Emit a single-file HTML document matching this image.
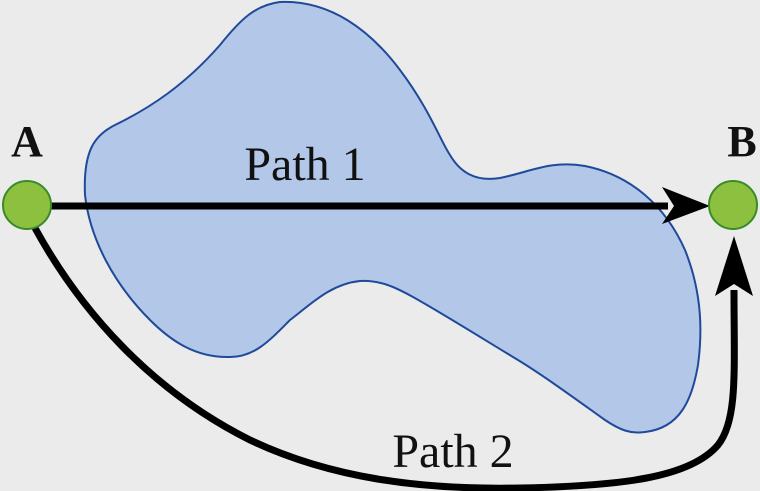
<!DOCTYPE html>
<html><head><meta charset="utf-8"><style>
html,body{margin:0;padding:0;background:#ebebeb;}
svg{display:block;}
text{font-family:"Liberation Serif",serif;fill:#111;}
</style></head><body>
<svg width="760" height="491" viewBox="0 0 760 491">
<rect width="760" height="491" fill="#ebebeb"/>
<path fill="#b3c8e8" stroke="#1f4a9a" stroke-width="2"
d="M280,2 C330,0 370,30 400,70 C430,110 440,140 450,155 C460,172 475,182 500,178 C530,172 550,160 585,166 C630,175 665,205 685,250 C703,295 702,335 698,365 C692,400 680,428 645,432 C630,434 620,430 605,420 C570,395 540,373 513,357 C480,337 440,312 413,297 C395,287 380,280 360,281 C330,284 310,305 290,320 C270,340 255,357 230,357 C195,358 170,340 150,320 C115,285 90,240 85,195 C83,150 95,135 115,125 C150,108 185,85 220,45 C240,20 255,5 280,2 Z"/>
<line x1="40" y1="206" x2="668" y2="206" stroke="#000" stroke-width="7"/>
<polygon points="710,206 662,187 674,206 662,224" fill="#000"/>
<path d="M35,228 C80,310 150,390 250,440 C330,478 420,490 520,488 C620,486 690,478 718,445 C738,420 734,370 734,290" fill="none" stroke="#000" stroke-width="7"/>
<polygon points="734,236 715,296 734,284 753,296" fill="#000"/>
<circle cx="27" cy="205" r="24" fill="#8dc03f" stroke="#3a8a2a" stroke-width="2"/>
<circle cx="733" cy="205" r="24" fill="#8dc03f" stroke="#3a8a2a" stroke-width="2"/>
<text x="27" y="156" font-size="44" font-weight="bold" text-anchor="middle">A</text>
<text x="742" y="156" font-size="44" font-weight="bold" text-anchor="middle">B</text>
<text x="305" y="180" font-size="48" text-anchor="middle">Path 1</text>
<text x="453" y="467" font-size="48" text-anchor="middle">Path 2</text>
</svg>
</body></html>
